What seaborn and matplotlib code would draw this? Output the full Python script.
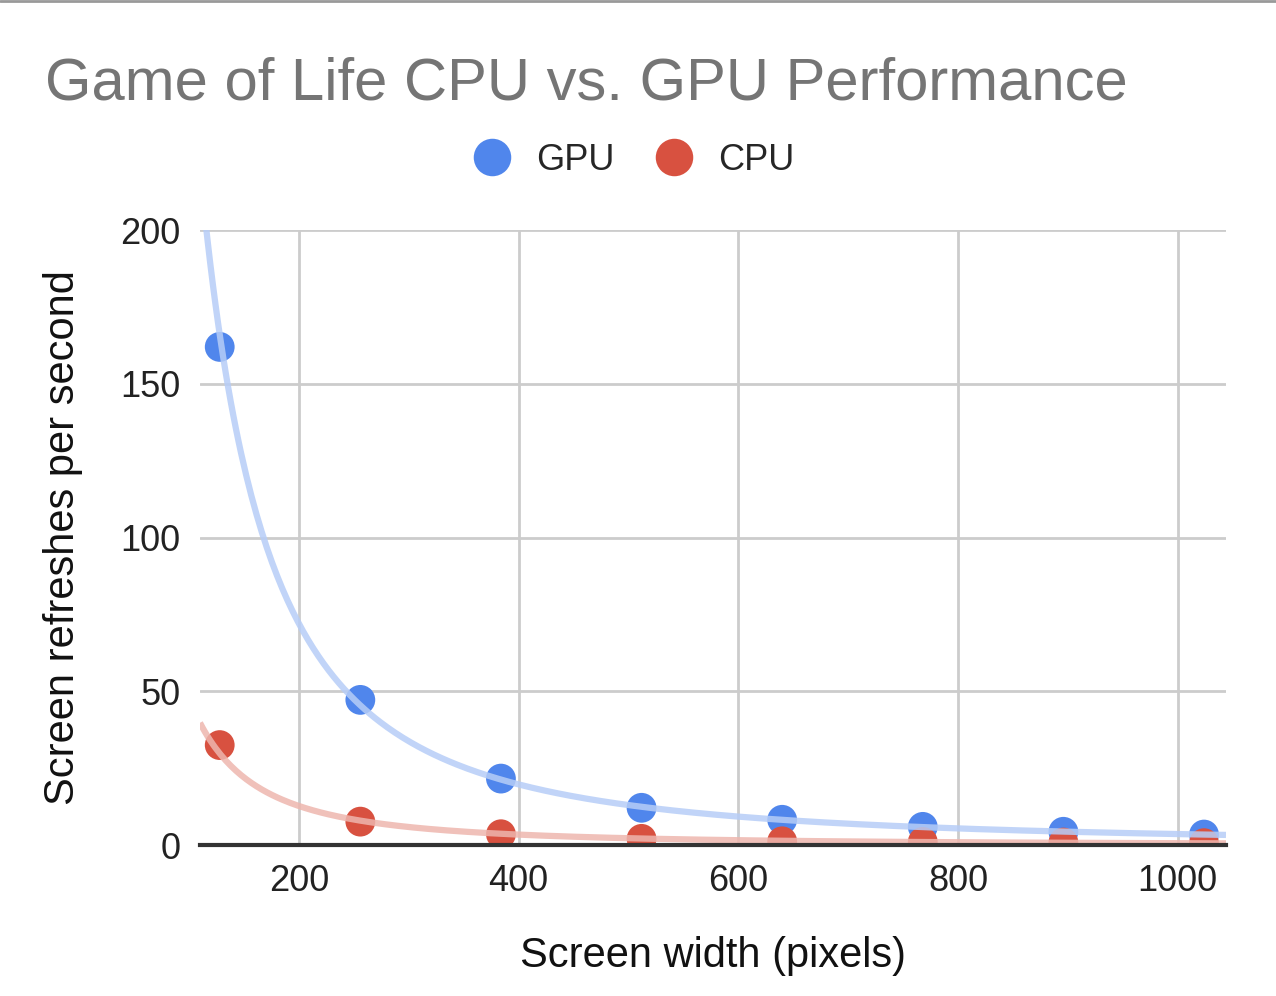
import numpy as np
import pandas as pd
import seaborn as sns
import matplotlib.pyplot as plt
from matplotlib.lines import Line2D

widths = [128, 256, 384, 512, 640, 768, 896, 1024]
gpu_fps = [162, 47.2, 21.6, 12.1, 8.2, 5.9, 4.3, 3.4]
cpu_fps = [32.5, 7.6, 3.5, 2.0, 1.2, 1.0, 0.8, 0.6]
series = ["GPU", "CPU"]
dot_colors = {"GPU": "#5086ec", "CPU": "#d85140"}
line_colors = {"GPU": "#b6cdf7", "CPU": "#eeb6ae"}

df = pd.DataFrame({
    "width": widths * 2,
    "fps": gpu_fps + cpu_fps,
    "series": ["GPU"] * len(widths) + ["CPU"] * len(widths),
})

sns.set_style("white")
plt.rcParams["font.family"] = ["Liberation Sans", "DejaVu Sans"]

fig = plt.figure(figsize=(12.76, 9.96), dpi=100)
ax = fig.add_axes([0.1567, 0.1516, 0.8041, 0.6174])

sns.scatterplot(data=df, x="width", y="fps", hue="series", palette=dot_colors,
                s=460, edgecolor="none", legend=False, zorder=3, ax=ax)

# power trendlines, fitted in log space like the spreadsheet does
xs = np.linspace(110, 1044, 400)
for name, vals in [("GPU", gpu_fps), ("CPU", cpu_fps)]:
    b, a = np.polyfit(np.log(widths), np.log(vals), 1)
    ax.plot(xs, np.exp(a) * xs ** b, color=line_colors[name], lw=4.5,
            alpha=0.85, zorder=4, solid_capstyle="butt")

ax.set_xlim(110, 1044)
ax.set_ylim(0, 200)
ax.set_xticks([200, 400, 600, 800, 1000])
ax.set_yticks([0, 50, 100, 150, 200])
ax.grid(True, color="#cccccc", lw=2)
ax.set_axisbelow(True)
for s in ["top", "right", "left"]:
    ax.spines[s].set_visible(False)
ax.spines["bottom"].set_color("#333333")
ax.spines["bottom"].set_linewidth(3)
ax.spines["bottom"].set_zorder(5)
ax.tick_params(length=0, labelsize=26, colors="#222222", pad=14)

ax.set_xlabel("Screen width (pixels)", fontsize=30, color="#111111", labelpad=26)
ax.set_ylabel("Screen refreshes per second", fontsize=30, color="#111111", labelpad=27)

fig.text(0.035, 0.8996, "Game of Life CPU vs. GPU Performance", fontsize=43,
         color="#757575", ha="left", va="baseline")

handles = [Line2D([], [], ls="none", marker="o", markersize=27,
                  markerfacecolor=dot_colors[n], markeredgecolor="none", label=n)
           for n in series]
fig.legend(handles=handles, loc="center", bbox_to_anchor=(0.497, 0.839), ncol=2,
           frameon=False, fontsize=26, handletextpad=0.72, columnspacing=1.15,
           handlelength=1.0)

fig.add_artist(Line2D([0, 1], [0.999, 0.999], color="#999999", lw=2))

plt.savefig("out.png", dpi=100)
